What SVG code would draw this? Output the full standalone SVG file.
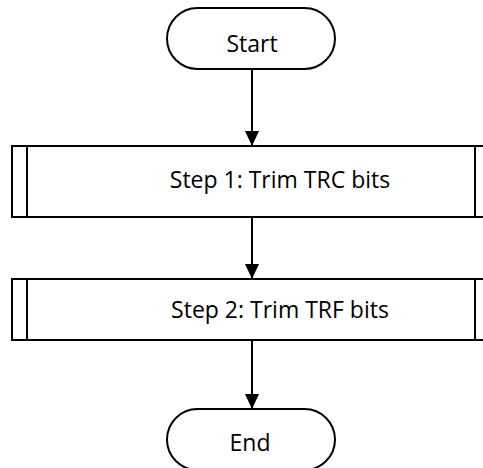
<svg xmlns="http://www.w3.org/2000/svg" width="483" height="468" viewBox="0 0 483 468">
  <style>
    .shape { fill: #ffffff; stroke: #000000; stroke-width: 2; }
    .label { font-family: "Open Sans", "Liberation Sans", sans-serif; font-size: 23px; fill: #000000; text-anchor: middle; }
    .conn { stroke: #000000; stroke-width: 2; fill: none; marker-end: url(#arrow); }
  </style>
  <defs>
    <marker id="arrow" markerWidth="15" markerHeight="14" refX="15" refY="7" orient="auto" markerUnits="userSpaceOnUse" viewBox="0 0 15 14">
      <path d="M0,0 L15,7 L0,14 Z" fill="#000000"/>
    </marker>
  </defs>
  <rect width="483" height="468" fill="#ffffff"/>

  <g id="connectors">
    <line class="conn" x1="252" y1="69" x2="252" y2="146"/>
    <line class="conn" x1="252" y1="217" x2="252" y2="279"/>
    <line class="conn" x1="252" y1="340" x2="252" y2="409"/>
  </g>

  <g id="start">
    <rect class="shape" x="167" y="8" width="168" height="61" rx="30.5" ry="30.5"/>
    <text class="label" x="252" y="52">Start</text>
  </g>

  <g id="step1">
    <rect class="shape" x="12" y="146" width="480" height="71"/>
    <line class="shape" x1="27" y1="146" x2="27" y2="217"/>
    <line class="shape" x1="475" y1="146" x2="475" y2="217"/>
    <text class="label" x="280" y="188">Step 1: Trim TRC bits</text>
  </g>

  <g id="step2">
    <rect class="shape" x="12" y="279" width="480" height="61"/>
    <line class="shape" x1="27" y1="279" x2="27" y2="340"/>
    <line class="shape" x1="475" y1="279" x2="475" y2="340"/>
    <text class="label" x="280" y="318">Step 2: Trim TRF bits</text>
  </g>

  <g id="end">
    <rect class="shape" x="167" y="409" width="168" height="61" rx="30.5" ry="30.5"/>
    <text class="label" x="250" y="451">End</text>
  </g>
</svg>
